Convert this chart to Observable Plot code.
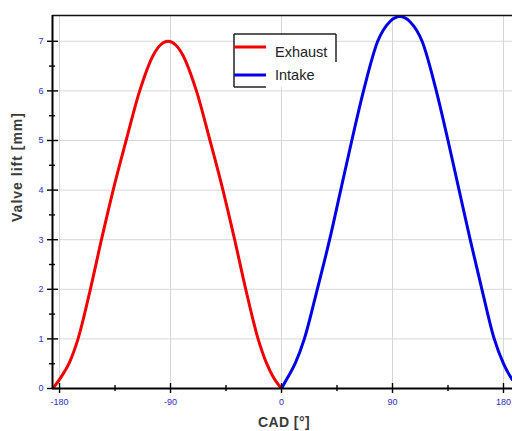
<!DOCTYPE html>
<html><head><meta charset="utf-8">
<script src="https://cdn.jsdelivr.net/npm/d3@7"></script>
<script src="https://cdn.jsdelivr.net/npm/@observablehq/plot@0.6"></script>
<style>body{margin:0;background:#fff;} svg{display:block;}</style>
</head><body><div id="chart"></div>
<script>
// ---- data ----
const exhaustCAD  = [-185.5, -179, -172, -165, -155, -146, -136.5, -126, -115, -104, -98, -92, -86, -80, -69, -58, -47.5, -38, -29, -19, -12, -6, 0];
const exhaustLift = [0, 0.22, 0.52, 1, 2, 3, 4, 5, 6, 6.72, 6.93, 7.0, 6.93, 6.72, 6, 5, 4, 3, 2, 1, 0.5, 0.2, 0];
const intakeCAD   = [0, 4.5, 11, 18.5, 29, 39, 48, 57, 66.5, 78, 88, 96, 104, 114, 125.5, 135, 144, 153, 162.5, 172.5, 180, 187];
const intakeLift  = [0, 0.2, 0.5, 1, 2, 3, 4, 5, 6, 7, 7.4, 7.5, 7.4, 7, 6, 5, 4, 3, 2, 1, 0.5, 0.18];
const seriesNames  = ["Exhaust", "Intake"];
const seriesColors = ["#f00000", "#0000e6"];
const xMajorTicks = [-180, -90, 0, 90, 180];
const xMinorTicks = [-135, -45, 45, 135];
const yMajorTicks = [0, 1, 2, 3, 4, 5, 6, 7];
const yMinorTicks = [0.5, 1.5, 2.5, 3.5, 4.5, 5.5, 6.5];
const xLabel = "CAD [°]";
const yLabel = "Valve lift [mm]";
const xDomain = [-185.7, 187.3];
const yDomain = [0, 7.52];

const rows = [
  ...exhaustCAD.map((c, i) => ({series: seriesNames[0], cad: c, lift: exhaustLift[i]})),
  ...intakeCAD.map((c, i) => ({series: seriesNames[1], cad: c, lift: intakeLift[i]}))
];

const tickBlue = "#2c2cc4";
const font = "'Liberation Sans', Arial, sans-serif";

const svg = Plot.plot({
  width: 512, height: 431,
  marginTop: 15, marginBottom: 43, marginLeft: 52, marginRight: 0,
  x: {domain: xDomain},
  y: {domain: yDomain},
  color: {domain: seriesNames, range: seriesColors},
  style: {fontFamily: font, fontSize: "9px", background: "#fff", overflow: "visible"},
  marks: [
    Plot.gridX(xMajorTicks, {stroke: "#d6d6d6", strokeOpacity: 1}),
    Plot.gridY(yMajorTicks.slice(1), {stroke: "#d6d6d6", strokeOpacity: 1}),
    Plot.line(rows, {x: "cad", y: "lift", z: "series", stroke: "series", strokeWidth: 3, curve: "monotone-x", clip: true}),
    Plot.ruleY([yDomain[1]], {stroke: "#111", strokeWidth: 1.5}),
    Plot.ruleX([xDomain[0]], {stroke: "#000", strokeWidth: 2}),
    Plot.ruleY([0], {stroke: "#000", strokeWidth: 2}),
    Plot.axisX(xMajorTicks, {tickSize: 10, dy: -5, tickFormat: () => "", label: null, stroke: "#000", strokeWidth: 1.4}),
    Plot.axisX(xMinorTicks, {tickSize: 6, dy: -3, tickFormat: () => "", label: null, stroke: "#000", strokeWidth: 1.4}),
    Plot.axisX(xMajorTicks, {tickSize: 0, tickPadding: 10, tickFormat: d => String(d), label: null, fill: tickBlue}),
    Plot.axisY(yMajorTicks, {tickSize: 11, dx: 6, tickFormat: () => "", label: null, stroke: "#000", strokeWidth: 1.4}),
    Plot.axisY(yMinorTicks, {tickSize: 6, dx: 3, tickFormat: () => "", label: null, stroke: "#000", strokeWidth: 1.4}),
    Plot.axisY(yMajorTicks, {tickSize: 0, tickPadding: 9, tickFormat: d => String(d), label: null, fill: tickBlue})
  ]
});

const s = d3.select(svg);
// axis titles
s.append("text").attr("transform", "translate(22,167) rotate(-90)")
  .attr("text-anchor", "middle").attr("font-family", font).attr("font-size", 14)
  .attr("font-weight", "bold").attr("letter-spacing", 1).attr("fill", "#3a3a3a").text(yLabel);
s.append("text").attr("x", 284).attr("y", 427)
  .attr("text-anchor", "middle").attr("font-family", font).attr("font-size", 14)
  .attr("font-weight", "bold").attr("letter-spacing", 0.4).attr("fill", "#3a3a3a").text(xLabel);

// legend
const lg = s.append("g");
lg.append("rect").attr("x", 234).attr("y", 34).attr("width", 102).attr("height", 53).attr("fill", "#fff");
lg.append("line").attr("x1", 234).attr("x2", 336).attr("y1", 34).attr("y2", 34).attr("stroke", "#222").attr("stroke-width", 1.5);
lg.append("line").attr("x1", 234).attr("x2", 234).attr("y1", 34).attr("y2", 87).attr("stroke", "#222").attr("stroke-width", 1.5);
lg.append("line").attr("x1", 336).attr("x2", 336).attr("y1", 34).attr("y2", 62).attr("stroke", "#222").attr("stroke-width", 1.5);
lg.append("line").attr("x1", 234).attr("x2", 266).attr("y1", 87).attr("y2", 87).attr("stroke", "#222").attr("stroke-width", 1.5);
const lineY = [47, 75], textY = [57, 80];
seriesNames.forEach((n, i) => {
  lg.append("line").attr("x1", 234).attr("x2", 266).attr("y1", lineY[i]).attr("y2", lineY[i])
    .attr("stroke", seriesColors[i]).attr("stroke-width", 3);
  lg.append("text").attr("x", 275).attr("y", textY[i]).attr("font-family", font)
    .attr("text-anchor", "start").attr("font-size", 14.5).attr("fill", "#222").text(n);
});

document.getElementById("chart").appendChild(svg);
</script>
</body></html>
